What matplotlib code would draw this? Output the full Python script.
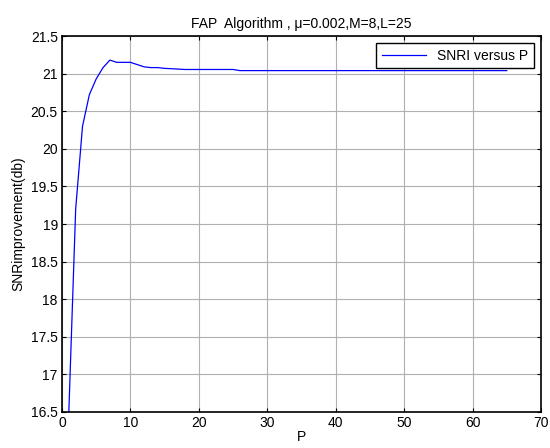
import matplotlib
matplotlib.use("Agg")
import matplotlib.pyplot as plt

plt.rcParams['font.family'] = ['Liberation Sans', 'DejaVu Sans']

P = list(range(1, 66))
snri = ([16.5, 19.2, 20.3, 20.72, 20.93, 21.08, 21.18, 21.15, 21.15, 21.15,
         21.12, 21.09, 21.08, 21.08, 21.07, 21.065, 21.06]
        + [21.055] * 8 + [21.04] * 40)

xticks = list(range(0, 71, 10))
yticks = [16.5, 17, 17.5, 18, 18.5, 19, 19.5, 20, 20.5, 21, 21.5]
ytick_labels = ['16.5', '17', '17.5', '18', '18.5', '19', '19.5', '20', '20.5', '21', '21.5']

fig = plt.figure(figsize=(5.5, 4.48), dpi=100)
ax = fig.add_axes([0.1127, 0.0804, 0.8709, 0.8392])
ax.plot(P, snri, color='#0000ff', linewidth=0.9, label='SNRI versus P')
ax.set_xlim(0, 70)
ax.set_ylim(16.5, 21.5)
ax.set_xticks(xticks)
ax.set_yticks(yticks)
ax.set_yticklabels(ytick_labels)
ax.grid(True, color='#b0b0b0', linewidth=0.8, linestyle='-')
ax.tick_params(direction='in', top=True, right=True, labelsize=10, length=3, pad=3)
for s in ax.spines.values():
    s.set_linewidth(1.2)
ax.set_xlabel('P', fontsize=10, labelpad=0)
ax.set_ylabel('SNRimprovement(db)', fontsize=10, labelpad=4)
ax.set_title('FAP  Algorithm , \u03bc=0.002,M=8,L=25', fontsize=10, pad=6)
leg = ax.legend(loc='upper right', fontsize=10, fancybox=False, framealpha=1,
                edgecolor='black', borderaxespad=0.5, handlelength=3.2)
leg.get_frame().set_linewidth(1.0)
fig.savefig('out.png', dpi=100)
